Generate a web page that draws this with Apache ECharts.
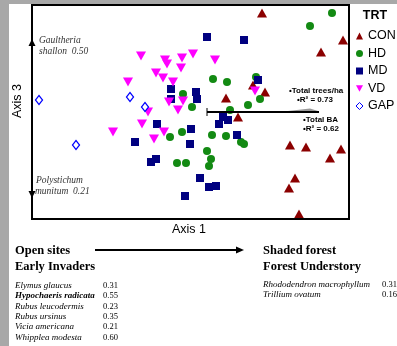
<!DOCTYPE html>
<html>
<head>
<meta charset="utf-8">
<script src="https://cdn.jsdelivr.net/npm/echarts@6/dist/echarts.min.js"></script>
<style>html,body{margin:0;padding:0;background:#fff}#c{width:397px;height:346px}</style>
</head>
<body>
<div id="c"></div>
<script>
// Ordination scores (plot units: Axis 1 = x, Axis 3 = y)
var treatments = ['CON', 'HD', 'MD', 'VD', 'GAP'];
var conPts = [[230,206],[311,179],[289,167],[221,134],[233,127],[194,121],[206,102],[258,74],[274,72],[309,70],[298,61],[263,41],[257,31],[267,5]];
var hdPts = [[300,206],[278,193],[181,140],[195,137],[224,142],[228,120],[216,114],[198,109],[160,112],[151,125],[138,82],[150,87],[180,84],[194,83],[209,77],[212,75],[175,68],[179,60],[177,53],[145,56],[154,56]];
var mdPts = [[175,182],[212,179],[226,139],[139,130],[139,120],[164,127],[165,120],[191,102],[196,99],[187,95],[125,95],[159,90],[103,77],[158,75],[205,84],[124,60],[119,57],[168,41],[177,32],[184,33],[153,23]];
var vdPts = [[109,163],[133,159],[135,155],[150,161],[161,165],[183,159],[149,151],[124,146],[131,141],[96,137],[141,137],[137,117],[151,118],[146,109],[116,107],[110,95],[81,87],[132,87],[122,80],[223,128]];
var gapPts = [[7,119],[98,122],[113,112],[44,74]];
var axisRange = {xMin: 0, xMax: 317, yMin: 0, yMax: 214};

var openSpecies = ['Elymus glaucus', 'Hypochaeris radicata', 'Rubus leucodermis', 'Rubus ursinus', 'Vicia americana', 'Whipplea modesta'];
var openValues = ['0.31', '0.55', '0.23', '0.35', '0.21', '0.60'];
var shadeSpecies = ['Rhododendron macrophyllum', 'Trillium ovatum'];
var shadeValues = ['0.31', '0.16'];
var vectorLabels = [['\u2022Total trees/ha', '\u2022R\u00b2 = 0.73'], ['\u2022Total BA', '\u2022R\u00b2 = 0.62']];

var chart = echarts.init(document.getElementById('c'), null, {renderer: 'canvas'});
var SANS = '"Liberation Sans", Arial, sans-serif';
var SERIF = '"Liberation Serif", "Times New Roman", serif';

var g = [];
// gray frame strips
g.push({type: 'rect', shape: {x: 0, y: 0, width: 397, height: 4}, style: {fill: '#a8a8a8'}, z: 0});
g.push({type: 'rect', shape: {x: 0, y: 0, width: 9, height: 346}, style: {fill: '#a8a8a8'}, z: 0});
// plot box
g.push({type: 'rect', shape: {x: 32, y: 5, width: 317, height: 214}, style: {fill: 'none', stroke: '#000', lineWidth: 2}, z: 10});
// left axis arrows
g.push({type: 'polygon', shape: {points: [[32, 39], [28.5, 46], [35.5, 46]]}, style: {fill: '#000'}, z: 11});
g.push({type: 'polygon', shape: {points: [[32, 198], [28.5, 191], [35.5, 191]]}, style: {fill: '#000'}, z: 11});
// axis titles
g.push({type: 'text', x: 18, y: 101, rotation: Math.PI / 2, style: {text: 'Axis 3', font: '12.5px ' + SANS, fill: '#000', textAlign: 'center', textVerticalAlign: 'middle'}});
g.push({type: 'text', x: 189, y: 230, style: {text: 'Axis 1', font: '12.5px ' + SANS, fill: '#000', textAlign: 'center', textVerticalAlign: 'middle'}});
// species loadings inside plot
var ital = 'italic 9.5px ' + SERIF;
g.push({type: 'text', x: 39, y: 40, style: {text: 'Gaultheria', font: ital, fill: '#333', textVerticalAlign: 'middle'}});
g.push({type: 'text', x: 39, y: 51, style: {text: 'shallon  0.50', font: ital, fill: '#333', textVerticalAlign: 'middle'}});
g.push({type: 'text', x: 36, y: 180, style: {text: 'Polystichum', font: ital, fill: '#333', textVerticalAlign: 'middle'}});
g.push({type: 'text', x: 35, y: 191, style: {text: 'munitum  0.21', font: ital, fill: '#333', textVerticalAlign: 'middle'}});
// environmental vector
g.push({type: 'line', shape: {x1: 207, y1: 112, x2: 319, y2: 112}, style: {stroke: '#000', lineWidth: 2}, z: 12});
g.push({type: 'line', shape: {x1: 207, y1: 108, x2: 207, y2: 116}, style: {stroke: '#000', lineWidth: 1}, z: 12});
g.push({type: 'polygon', shape: {points: [[288, 111], [310, 108.5], [318, 111]]}, style: {fill: '#999'}, z: 11});
var vb = 'bold 8px ' + SANS;
g.push({type: 'text', x: 289, y: 91, style: {text: vectorLabels[0][0], font: vb, fill: '#000', textVerticalAlign: 'middle'}, z: 12});
g.push({type: 'text', x: 297, y: 100, style: {text: vectorLabels[0][1], font: vb, fill: '#000', textVerticalAlign: 'middle'}, z: 12});
g.push({type: 'text', x: 303, y: 120, style: {text: vectorLabels[1][0], font: vb, fill: '#000', textVerticalAlign: 'middle'}, z: 12});
g.push({type: 'text', x: 303, y: 129, style: {text: vectorLabels[1][1], font: vb, fill: '#000', textVerticalAlign: 'middle'}, z: 12});
// legend title
g.push({type: 'text', x: 375, y: 16, style: {text: 'TRT', font: 'bold 12.5px ' + SANS, fill: '#000', textAlign: 'center', textVerticalAlign: 'middle'}});
// bottom headings
var hb = 'bold 12.5px ' + SERIF;
g.push({type: 'text', x: 15, y: 251, style: {text: 'Open sites', font: hb, fill: '#000', textVerticalAlign: 'middle'}});
g.push({type: 'text', x: 15, y: 267, style: {text: 'Early Invaders', font: hb, fill: '#000', textVerticalAlign: 'middle'}});
g.push({type: 'text', x: 263, y: 251, style: {text: 'Shaded forest', font: hb, fill: '#000', textVerticalAlign: 'middle'}});
g.push({type: 'text', x: 263, y: 267, style: {text: 'Forest Understory', font: hb, fill: '#000', textVerticalAlign: 'middle'}});
// gradient arrow
g.push({type: 'line', shape: {x1: 95, y1: 250, x2: 237, y2: 250}, style: {stroke: '#000', lineWidth: 2}});
g.push({type: 'polygon', shape: {points: [[244, 250], [236, 246.5], [236, 253.5]]}, style: {fill: '#000'}});
// species lists
openSpecies.forEach(function (s, i) {
  var y = 285.5 + i * 10.4;
  var bold = s === 'Hypochaeris radicata';
  g.push({type: 'text', x: 15, y: y, style: {text: s, font: (bold ? 'italic bold ' : 'italic ') + '9px ' + SERIF, fill: '#000', textVerticalAlign: 'middle'}});
  g.push({type: 'text', x: 103, y: y, style: {text: openValues[i], font: '8.5px ' + SERIF, fill: '#000', textVerticalAlign: 'middle'}});
});
shadeSpecies.forEach(function (s, i) {
  var y = 284.5 + i * 10.4;
  g.push({type: 'text', x: 263, y: y, style: {text: s, font: 'italic 9px ' + SERIF, fill: '#000', textVerticalAlign: 'middle'}});
  g.push({type: 'text', x: 382, y: y, style: {text: shadeValues[i], font: '8.5px ' + SERIF, fill: '#000', textVerticalAlign: 'middle'}});
});

var downTri = 'path://M0,0 L10,0 L5,9 Z';
var option = {
  animation: false,
  backgroundColor: '#fff',
  grid: {left: 32, top: 5, width: 317, height: 214, show: false},
  xAxis: {type: 'value', min: axisRange.xMin, max: axisRange.xMax, show: false},
  yAxis: {type: 'value', min: axisRange.yMin, max: axisRange.yMax, show: false},
  legend: {
    orient: 'vertical', left: 350.5, top: 24.5, itemWidth: 7, itemHeight: 7, itemGap: 4.5,
    textStyle: {fontFamily: SANS, fontSize: 12.5, color: '#000', lineHeight: 13},
    data: treatments.map(function (t) {
      return t === 'GAP' ? {name: t, itemStyle: {borderWidth: 1}} : {name: t};
    })
  },
  series: [
    {name: 'CON', type: 'scatter', data: conPts, symbol: 'triangle', symbolSize: [10, 9], itemStyle: {color: '#8b0000', opacity: 1}, z: 5},
    {name: 'HD', type: 'scatter', data: hdPts, symbol: 'circle', symbolSize: 8, itemStyle: {color: '#138a13', opacity: 1}, z: 5},
    {name: 'MD', type: 'scatter', data: mdPts, symbol: 'rect', symbolSize: 8, itemStyle: {color: '#000080', opacity: 1}, z: 5},
    {name: 'VD', type: 'scatter', data: vdPts, symbol: downTri, symbolSize: [10, 9], itemStyle: {color: '#ff00ff', opacity: 1}, z: 5},
    {name: 'GAP', type: 'scatter', data: gapPts, symbol: 'diamond', symbolSize: [7, 9], itemStyle: {color: '#ffffff', borderColor: '#0000ff', borderWidth: 1.3, opacity: 1}, z: 5}
  ],
  graphic: g
};
chart.setOption(option);
</script>
</body>
</html>
